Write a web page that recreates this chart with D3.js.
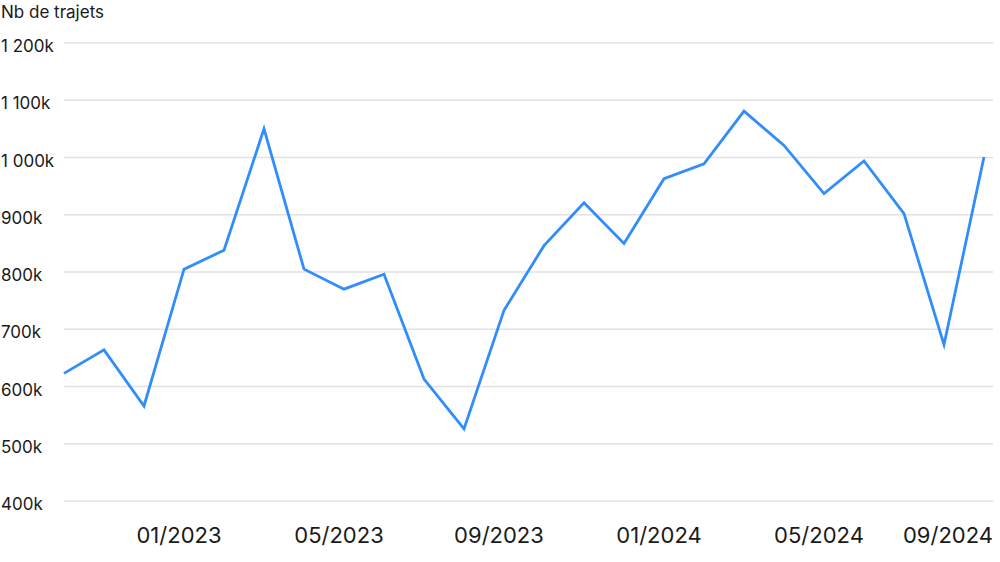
<!DOCTYPE html>
<html>
<head>
<meta charset="utf-8">
<script src="https://cdn.jsdelivr.net/npm/d3@7"></script>
<style>
  body { margin: 0; background: #fff; }
  svg text { font-family: Inter, "Noto Sans", sans-serif; fill: #1a1a1a; }
</style>
</head>
<body>
<div id="chart"></div>
<script>
// monthly trips, 10/2022 -> 09/2024
const months = [
  '10/2022', '11/2022', '12/2022', '01/2023', '02/2023', '03/2023',
  '04/2023', '05/2023', '06/2023', '07/2023', '08/2023', '09/2023',
  '10/2023', '11/2023', '12/2023', '01/2024', '02/2024', '03/2024',
  '04/2024', '05/2024', '06/2024', '07/2024', '08/2024', '09/2024'
]
const trips = [
  623, 664, 566, 805, 838, 1050,
  805, 770, 796, 613, 526, 733,
  846, 921, 850, 963, 989, 1081,
  1021, 937, 994, 902, 673, 1001
]
const yTicks = [400, 500, 600, 700, 800, 900, 1000, 1100, 1200]
const xTicks = ['01/2023', '05/2023', '09/2023', '01/2024', '05/2024', '09/2024']

const width = 1000
const height = 562
const margin = {top: 43, right: 7, bottom: 61, left: 64}

const svg = d3.select('#chart').append('svg')
  .attr('width', width)
  .attr('height', height)

const x = d3.scalePoint()
  .domain(months)
  .range([margin.left, width - 16])

const y = d3.scaleLinear()
  .domain([400, 1200])
  .range([height - margin.bottom, margin.top])

const fmt = v => (v >= 1000 ? Math.floor(v / 1000) + '\u00a0' + d3.format('03d')(v % 1000) : v) + 'k'

// grid lines
const grid = svg.append('g')
grid.selectAll('line')
  .data(yTicks)
  .join('line')
  .attr('x1', margin.left)
  .attr('x2', width - margin.right)
  .attr('y1', d => y(d))
  .attr('y2', d => y(d))
  .attr('stroke', '#e2e2e2')
  .attr('stroke-width', 1.5)

// y labels
svg.append('g').selectAll('text')
  .data(yTicks)
  .join('text')
  .attr('x', 1)
  .attr('y', d => y(d) + 9)
  .attr('font-size', 17)
  .text(fmt)

svg.append('text')
  .attr('x', 1)
  .attr('y', 18)
  .attr('font-size', 17)
  .text('Nb de trajets')

// x labels
const lastX = width - margin.right
svg.append('g').selectAll('text')
  .data(xTicks)
  .join('text')
  .attr('x', d => d === months[months.length - 1] ? lastX : x(d) - 5)
  .attr('y', 543)
  .attr('text-anchor', d => d === months[months.length - 1] ? 'end' : 'middle')
  .attr('font-size', 22)
  .text(d => d)

const line = d3.line()
  .x((d, i) => x(months[i]))
  .y(d => y(d))

svg.append('path')
  .datum(trips)
  .attr('d', line)
  .attr('fill', 'none')
  .attr('stroke', '#318dfa')
  .attr('stroke-width', 2.8)
  .attr('stroke-linejoin', 'miter')
</script>
</body>
</html>
